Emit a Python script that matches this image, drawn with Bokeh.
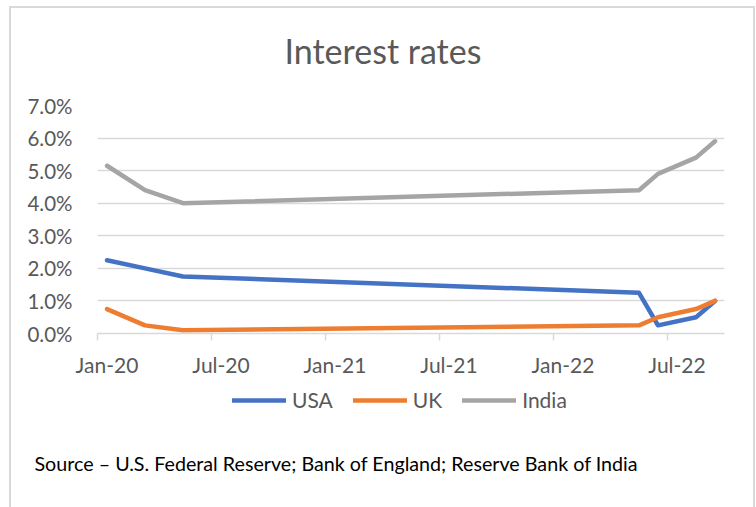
from bokeh.plotting import figure
from bokeh.layouts import column
from bokeh.models import (ColumnDataSource, Range1d, FixedTicker, LinearAxis, Grid,
                          NumeralTickFormatter, Legend, LegendItem, Label, Title)
from bokeh.embed import file_html
from bokeh.resources import INLINE

# ---- data ----
dates = ["2020-01", "2020-03", "2020-05", "2022-05", "2022-06", "2022-08", "2022-09"]
usa = [2.25, 2.00, 1.75, 1.25, 0.25, 0.50, 1.00]
uk = [0.75, 0.25, 0.10, 0.25, 0.50, 0.75, 1.00]
india = [5.15, 4.40, 4.00, 4.40, 4.90, 5.40, 5.90]
tick_labels = ["Jan-20", "Jul-20", "Jan-21", "Jul-21", "Jan-22", "Jul-22"]
y_ticks = [0.00, 0.01, 0.02, 0.03, 0.04, 0.05, 0.06, 0.07]
series_names = ["USA", "UK", "India"]
colors = ["#4472C4", "#ED7D31", "#A5A5A5"]
title_text = "Interest rates"
source_text = "Source \u2013 U.S. Federal Reserve; Bank of England; Reserve Bank of India"

FONT = "Lato"
TXT = "#595959"
GRID = "#D9D9D9"


def month_index(s):
    y, m = s.split("-")
    return (int(y) - 2020) * 12 + (int(m) - 1)


# Excel date axis with base unit = months, points in the middle of each month
x = [month_index(d) + 0.5 for d in dates]
src = ColumnDataSource(dict(
    x=x,
    USA=[v / 100 for v in usa],
    UK=[v / 100 for v in uk],
    India=[v / 100 for v in india],
))

tick_pos = [month_index(f"20{lbl[-2:]}-{'01' if lbl.startswith('Jan') else '07'}") for lbl in tick_labels]
n_months = month_index(dates[-1]) + 1

W = 742
H_HEAD = 85
H_MAIN = 287
H_FOOT = 127


def blank(fig):
    fig.outline_line_color = None
    fig.background_fill_color = "white"
    fig.border_fill_color = "white"


# ---- header: chart title ----
h = figure(width=W, height=H_HEAD, output_backend="svg", toolbar_location=None,
           x_range=Range1d(0, 1), y_range=Range1d(0, 1), x_axis_type=None, y_axis_type=None,
           min_border_left=0, min_border_right=0, min_border_top=0, min_border_bottom=0)
blank(h)
h.grid.visible = False
h.add_layout(Label(x=187, y=43, x_units="screen", y_units="screen", text=title_text,
                   text_font=FONT, text_font_size="34px", text_color=TXT,
                   text_baseline="alphabetic", text_align="left"))

# ---- main plot ----
p = figure(width=W, height=H_MAIN, output_backend="svg", toolbar_location=None,
           x_range=Range1d(0, n_months), y_range=Range1d(0, 0.07),
           x_axis_type=None, y_axis_type=None,
           min_border_left=86, min_border_right=29, min_border_top=12, min_border_bottom=47)
blank(p)

yax = LinearAxis(ticker=FixedTicker(ticks=y_ticks),
                 formatter=NumeralTickFormatter(format="0.0%"))
yax.axis_line_color = None
yax.major_tick_line_color = None
yax.minor_tick_line_color = None
yax.major_tick_out = 0
yax.major_tick_in = 0
yax.major_label_standoff = 25
yax.major_label_text_font = FONT
yax.major_label_text_font_size = "20.5px"
yax.major_label_text_color = TXT
p.add_layout(yax, "left")

p.add_layout(Grid(dimension=1, ticker=FixedTicker(ticks=y_ticks),
                  grid_line_color=GRID, grid_line_width=1.5))

# x axis: tick marks at month boundaries
xax_ticks = LinearAxis(ticker=FixedTicker(ticks=tick_pos))
xax_ticks.axis_line_color = GRID
xax_ticks.axis_line_width = 1.5
xax_ticks.major_tick_line_color = GRID
xax_ticks.major_tick_line_width = 1.5
xax_ticks.major_tick_out = 7
xax_ticks.major_tick_in = 0
xax_ticks.minor_tick_line_color = None
xax_ticks.major_label_text_font_size = "1px"
xax_ticks.major_label_text_color = None
xax_ticks.major_label_standoff = 0
p.add_layout(xax_ticks, "below")

# x axis: labels centred in the month bucket
xax_lbl = LinearAxis(ticker=FixedTicker(ticks=[t + 0.5 for t in tick_pos]),
                     major_label_overrides={t + 0.5: l for t, l in zip(tick_pos, tick_labels)})
xax_lbl.axis_line_color = None
xax_lbl.major_tick_line_color = None
xax_lbl.minor_tick_line_color = None
xax_lbl.major_tick_out = 0
xax_lbl.major_tick_in = 0
xax_lbl.major_label_standoff = 11
xax_lbl.major_label_text_font = FONT
xax_lbl.major_label_text_font_size = "21px"
xax_lbl.major_label_text_color = TXT
p.add_layout(xax_lbl, "below")

for name, c in zip(series_names, colors):
    p.line("x", name, source=src, line_color=c, line_width=4.5,
           line_cap="round", line_join="round")

# ---- footer: legend + source note ----
f = figure(width=W, height=H_FOOT, output_backend="svg", toolbar_location=None,
           x_range=Range1d(0, n_months), y_range=Range1d(1, 2),
           x_axis_type=None, y_axis_type=None,
           min_border_left=0, min_border_right=0, min_border_top=0, min_border_bottom=62)
blank(f)
f.grid.visible = False

items = []
for name, c in zip(series_names, colors):
    # same series, only used for the legend keys (data lies outside this panel's range)
    r = f.line("x", name, source=src, line_color=c, line_width=4.5,
               line_cap="round", line_join="round")
    items.append(LegendItem(label=name, renderers=[r]))

legend = Legend(items=items, orientation="horizontal", location=(135, 33),
                border_line_color=None, background_fill_alpha=0,
                label_text_font=FONT, label_text_font_size="21px", label_text_color=TXT,
                glyph_width=54, glyph_height=20, label_standoff=6, spacing=20,
                padding=0, margin=0)
f.add_layout(legend)

f.add_layout(Title(text=source_text, align="left", offset=-63, standoff=8,
                   text_font=FONT, text_font_size="19.7px", text_font_style="normal",
                   text_color="#000000"), "below")

layout = column(h, p, f, spacing=0, margin=(6, 0, 0, 9),
                styles={"border-left": "2px solid #D9D9D9", "border-top": "2px solid #D9D9D9",
                        "border-right": "2px solid #D9D9D9"})

open("out.html", "w").write(file_html(layout, INLINE))
